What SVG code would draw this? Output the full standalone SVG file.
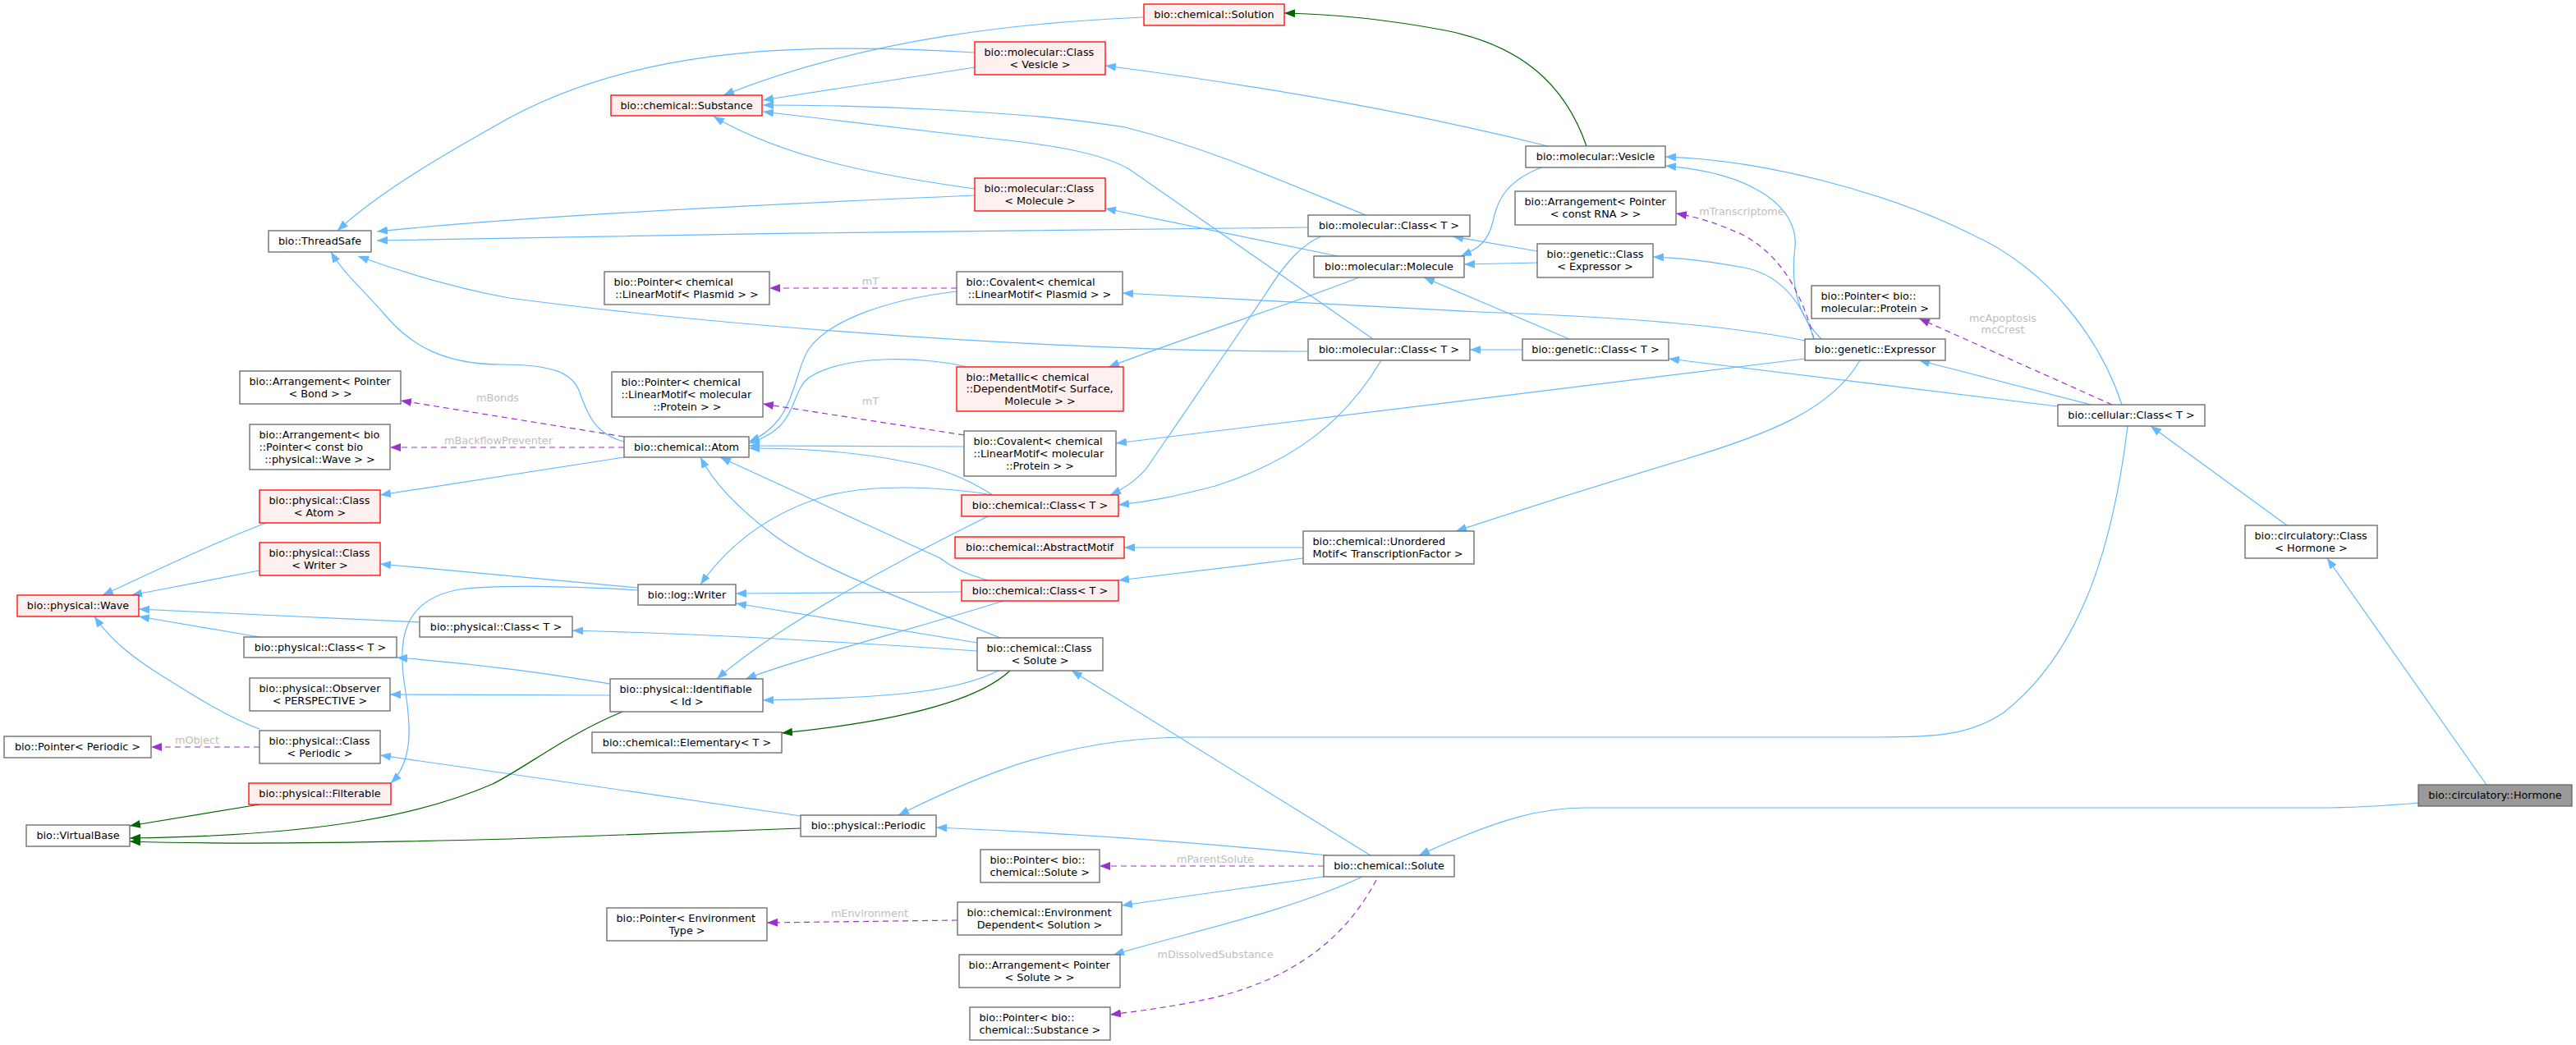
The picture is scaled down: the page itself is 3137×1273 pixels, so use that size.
<svg xmlns="http://www.w3.org/2000/svg" width="3137" height="1273" viewBox="0 0 3137 1273">
<style>
text{font-family:"DejaVu Sans","Liberation Sans",sans-serif;font-size:12.8px;fill:#000}
.n rect{fill:#fff;stroke:#666;stroke-width:1.3}
.r rect{fill:#fff0f0;stroke:#ff0000;stroke-width:1.3}
.h rect{fill:#999;stroke:#666;stroke-width:1.3}
.c{text-anchor:middle}
.eb{fill:none;stroke:#63b8ff;stroke-width:1.2;marker-end:url(#mb)}
.eg{fill:none;stroke:#006400;stroke-width:1.2;marker-end:url(#mg)}
.ep{fill:none;stroke:#9a32cd;stroke-width:1.2;stroke-dasharray:7,5;marker-end:url(#mp)}
.lbl{fill:#bebebe;text-anchor:middle}
</style>
<defs>
<marker id="mb" viewBox="0 0 13 10" refX="13" refY="5" markerWidth="13" markerHeight="10" markerUnits="userSpaceOnUse" orient="auto"><path d="M0,0 L13,5 L0,10 z" fill="#63b8ff"/></marker>
<marker id="mg" viewBox="0 0 13 10" refX="13" refY="5" markerWidth="13" markerHeight="10" markerUnits="userSpaceOnUse" orient="auto"><path d="M0,0 L13,5 L0,10 z" fill="#006400"/></marker>
<marker id="mp" viewBox="0 0 13 10" refX="13" refY="5" markerWidth="13" markerHeight="10" markerUnits="userSpaceOnUse" orient="auto"><path d="M0,0 L13,5 L0,10 z" fill="#9a32cd"/></marker>
</defs>
<rect width="3137" height="1273" fill="#fff"/>
<g id="edges">
<path class="eb" d="M1187,64 C960,50 760,60 600,155 C520,200 455,240 411,281"/>
<path class="eb" d="M1187,238 C950,248 650,262 459,282"/>
<path class="eb" d="M1593,277 C1300,280 800,285 459,293"/>
<path class="eb" d="M1593,428 C1300,428 900,400 620,363 C540,348 480,328 436,312"/>
<path class="eb" d="M760,538 C722,528 714,500 706,478 C698,455 675,444 610,444 C540,444 500,420 470,385 C440,350 420,335 403,307"/>
<path class="eb" d="M1393,21 C1250,27 1060,45 881,116"/>
<path class="eb" d="M1187,82 L929,122"/>
<path class="eb" d="M1663,262 C1560,220 1470,180 1370,155 C1250,135 1050,128 929,128"/>
<path class="eb" d="M1672,413 L1375,206 C1340,186 1280,176 1200,168 L929,136"/>
<path class="eb" d="M1187,230 C1080,215 960,195 869,142"/>
<path class="ep" d="M1165,351 L937,351"/>
<text class="lbl" x="1060" y="347">mT</text>
<path class="eb" d="M1165,355 C1080,365 1010,390 985,425 C965,455 970,515 912,538"/>
<path class="eb" d="M1177,447 C1130,435 1030,430 985,460 C960,480 975,520 912,540"/>
<path class="eb" d="M1174,544 C1050,543 970,543 912,543"/>
<path class="eb" d="M1209,603 C1180,585 1150,570 1100,562 C1040,550 980,546 912,546"/>
<path class="eb" d="M1203,707 C1180,700 1165,695 1145,680 L877,557"/>
<path class="eb" d="M1218,777 C1100,730 990,690 940,650 C900,620 870,590 853,557"/>
<path class="eb" d="M1209,603 C1150,593 1060,588 1000,606 C940,625 890,660 853,712"/>
<path class="eb" d="M1171,721 L896,723"/>
<path class="eb" d="M1190,783 L896,735"/>
<path class="eb" d="M777,716 C700,708 600,700 463,687"/>
<path class="eb" d="M777,719 C700,714 600,712 560,718 C490,730 485,780 492,830 C500,880 505,925 476,954"/>
<path class="eb" d="M1190,793 C1000,780 850,772 697,768"/>
<path class="eb" d="M511,758 L169,742"/>
<path class="eb" d="M316,776 L169,751"/>
<path class="eb" d="M324,637 C250,665 180,700 125,725"/>
<path class="eb" d="M316,695 L160,725"/>
<path class="eb" d="M316,888 C280,875 240,850 200,825 C160,800 135,780 115,751"/>
<path class="eb" d="M760,557 L463,603"/>
<path class="ep" d="M760,532 L488,488"/>
<text class="lbl" x="606" y="489">mBonds</text>
<path class="ep" d="M760,545 L475,545"/>
<text class="lbl" x="607" y="541">mBackflowPreventer</text>
<path class="ep" d="M1174,530 L929,492"/>
<text class="lbl" x="1060" y="493">mT</text>
<path class="eb" d="M1655,338 C1560,375 1460,405 1350,447"/>
<path class="eb" d="M1609,288 C1585,298 1565,320 1540,360 L1400,565 C1390,580 1375,592 1352,603"/>
<path class="eb" d="M1682,439 C1640,510 1580,560 1480,592 C1430,605 1400,611 1362,615"/>
<path class="eb" d="M1911,413 L1734,338"/>
<path class="eb" d="M1854,426 L1790,426"/>
<path class="eb" d="M1872,320 L1783,322"/>
<path class="eb" d="M1872,306 L1769,288"/>
<path class="eb" d="M2198,415 C2100,395 1950,385 1800,380 L1367,357"/>
<path class="eb" d="M2218,413 C2190,385 2180,350 2186,300 C2190,250 2130,210 2028,202"/>
<path class="ep" d="M2209,413 C2195,360 2170,310 2120,285 C2090,272 2070,265 2041,260"/>
<text class="lbl" x="2121" y="262">mTranscriptome</text>
<path class="eb" d="M2209,413 C2195,370 2170,335 2124,326 C2080,318 2050,314 2013,313"/>
<path class="eb" d="M1877,204 C1830,222 1822,250 1818,270 C1812,295 1800,303 1779,312"/>
<path class="eb" d="M1885,178 C1700,132 1500,100 1346,80"/>
<path class="eg" d="M1932,178 C1905,100 1850,55 1760,37 C1680,22 1620,17 1564,16"/>
<path class="eb" d="M1629,312 L1346,254"/>
<path class="eb" d="M2198,437 L1359,540"/>
<path class="eb" d="M2265,439 C2230,500 2150,530 2050,560 C1950,590 1870,615 1773,647"/>
<path class="eb" d="M1587,667 L1369,667"/>
<path class="eb" d="M1587,680 L1362,707"/>
<path class="eb" d="M2591,519 C2575,650 2540,790 2440,868 C2400,895 2360,898 2286,898 L1440,898 C1300,900 1200,940 1094,993"/>
<path class="eb" d="M2945,978 C2900,982 2860,984 2823,984 L1930,984 C1880,984 1830,995 1728,1042"/>
<path class="eb" d="M3028,956 L2834,680"/>
<path class="eb" d="M2785,640 L2619,519"/>
<path class="eb" d="M2546,493 L2337,439"/>
<path class="eb" d="M2506,495 L2032,437"/>
<path class="ep" d="M2572,493 L2337,388"/>
<text class="lbl" x="2439" y="392">mcApoptosis</text>
<text class="lbl" x="2439" y="406">mcCrest</text>
<path class="eb" d="M2584,493 C2560,420 2500,330 2400,285 C2300,235 2150,195 2028,191"/>
<path class="eb" d="M1669,1042 L1305,817"/>
<path class="ep" d="M1612,1055 L1339,1055"/>
<text class="lbl" x="1480" y="1051">mParentSolute</text>
<path class="eb" d="M1612,1068 L1366,1103"/>
<path class="eb" d="M1659,1068 C1570,1110 1450,1135 1356,1163"/>
<path class="ep" d="M1676,1072 C1640,1140 1580,1190 1480,1215 C1430,1226 1400,1230 1352,1236"/>
<text class="lbl" x="1480" y="1167">mDissolvedSubstance</text>
<path class="ep" d="M1166,1121 L934,1124"/>
<text class="lbl" x="1059" y="1117">mEnvironment</text>
<path class="eb" d="M1617,1042 C1450,1025 1300,1015 1140,1008"/>
<path class="eb" d="M975,994 L463,920"/>
<path class="ep" d="M316,910 L184,910"/>
<text class="lbl" x="240" y="906">mObject</text>
<path class="eg" d="M975,1009 L620,1022 C400,1028 250,1028 158,1025"/>
<path class="eg" d="M758,867 C690,895 640,935 600,955 C520,990 400,1018 158,1021"/>
<path class="eg" d="M316,980 L158,1006"/>
<path class="eg" d="M1230,817 C1200,845 1130,875 952,893"/>
<path class="eb" d="M1216,817 C1190,830 1150,840 1100,845 C1050,850 980,852 929,853"/>
<path class="eb" d="M1203,629 C1100,680 950,760 873,827"/>
<path class="eb" d="M1222,732 C1100,770 980,800 908,827"/>
<path class="eb" d="M743,833 C680,823 600,810 483,801"/>
<path class="eb" d="M743,847 L475,846"/>
</g>
<g id="n_ThreadSafe" class="n"><rect x="327" y="281" width="125" height="26"/><text class="c" x="389.5" y="298.3">bio::ThreadSafe</text></g>
<g id="n_Substance" class="r"><rect x="744" y="116" width="184" height="25"/><text class="c" x="836" y="132.8">bio::chemical::Substance</text></g>
<g id="n_Solution" class="r"><rect x="1393" y="5" width="171" height="26"/><text class="c" x="1478.5" y="22.3">bio::chemical::Solution</text></g>
<g id="n_molClassVesicle" class="r"><rect x="1187" y="51" width="159" height="40"/><text x="1198.5" y="67.9">bio::molecular::Class</text><text class="c" x="1266.5" y="82.6">&lt; Vesicle &gt;</text></g>
<g id="n_molClassMolecule" class="r"><rect x="1187" y="217" width="159" height="40"/><text x="1198.5" y="233.9">bio::molecular::Class</text><text class="c" x="1266.5" y="248.6">&lt; Molecule &gt;</text></g>
<g id="n_molClassT1" class="n"><rect x="1593" y="262" width="197" height="26"/><text class="c" x="1691.5" y="279.3">bio::molecular::Class&lt; T &gt;</text></g>
<g id="n_Molecule" class="n"><rect x="1600" y="312" width="183" height="26"/><text class="c" x="1691.5" y="329.3">bio::molecular::Molecule</text></g>
<g id="n_molClassT2" class="n"><rect x="1593" y="413" width="197" height="26"/><text class="c" x="1691.5" y="430.3">bio::molecular::Class&lt; T &gt;</text></g>
<g id="n_PtrPlasmid" class="n"><rect x="736" y="331" width="201" height="40"/><text x="747.5" y="347.9">bio::Pointer&lt; chemical</text><text class="c" x="836.5" y="362.6">::LinearMotif&lt; Plasmid &gt; &gt;</text></g>
<g id="n_CovalentPlasmid" class="n"><rect x="1165" y="331" width="202" height="40"/><text x="1176.5" y="347.9">bio::Covalent&lt; chemical</text><text class="c" x="1266" y="362.6">::LinearMotif&lt; Plasmid &gt; &gt;</text></g>
<g id="n_Vesicle" class="n"><rect x="1858" y="178" width="170" height="26"/><text class="c" x="1943" y="195.3">bio::molecular::Vesicle</text></g>
<g id="n_ArrRNA" class="n"><rect x="1845" y="233" width="196" height="41"/><text x="1856.5" y="250.4">bio::Arrangement&lt; Pointer</text><text class="c" x="1943" y="265.1">&lt; const RNA &gt; &gt;</text></g>
<g id="n_genClassExpressor" class="n"><rect x="1872" y="297" width="141" height="41"/><text x="1883.5" y="314.4">bio::genetic::Class</text><text class="c" x="1942.5" y="329.1">&lt; Expressor &gt;</text></g>
<g id="n_PtrProtein2" class="n"><rect x="2206" y="348" width="156" height="40"/><text x="2217.5" y="364.9">bio::Pointer&lt; bio::</text><text x="2217.5" y="379.6">molecular::Protein &gt;</text></g>
<g id="n_genClassT" class="n"><rect x="1854" y="413" width="178" height="26"/><text class="c" x="1943" y="430.3">bio::genetic::Class&lt; T &gt;</text></g>
<g id="n_Expressor" class="n"><rect x="2198" y="413" width="171" height="26"/><text class="c" x="2283.5" y="430.3">bio::genetic::Expressor</text></g>
<g id="n_cellularClass" class="n"><rect x="2506" y="493" width="179" height="26"/><text class="c" x="2595.5" y="510.3">bio::cellular::Class&lt; T &gt;</text></g>
<g id="n_circClass" class="n"><rect x="2734" y="640" width="161" height="40"/><text x="2745.5" y="656.9">bio::circulatory::Class</text><text class="c" x="2814.5" y="671.6">&lt; Hormone &gt;</text></g>
<g id="n_Hormone" class="h"><rect x="2945" y="956" width="187" height="26"/><text class="c" x="3038.5" y="973.3">bio::circulatory::Hormone</text></g>
<g id="n_ArrBond" class="n"><rect x="292" y="452" width="196" height="40"/><text x="303.5" y="468.9">bio::Arrangement&lt; Pointer</text><text class="c" x="390" y="483.6">&lt; Bond &gt; &gt;</text></g>
<g id="n_ArrWave" class="n"><rect x="304" y="517" width="171" height="55"/><text x="315.5" y="534.1">bio::Arrangement&lt; bio</text><text x="315.5" y="548.8">::Pointer&lt; const bio</text><text class="c" x="389.5" y="563.5">::physical::Wave &gt; &gt;</text></g>
<g id="n_physClassAtom" class="r"><rect x="316" y="597" width="147" height="40"/><text x="327.5" y="613.9">bio::physical::Class</text><text class="c" x="389.5" y="628.6">&lt; Atom &gt;</text></g>
<g id="n_physClassWriter" class="r"><rect x="316" y="661" width="147" height="40"/><text x="327.5" y="677.9">bio::physical::Class</text><text class="c" x="389.5" y="692.6">&lt; Writer &gt;</text></g>
<g id="n_Wave" class="r"><rect x="21" y="725" width="148" height="26"/><text class="c" x="95" y="742.3">bio::physical::Wave</text></g>
<g id="n_physClassTR" class="n"><rect x="511" y="751" width="186" height="25"/><text class="c" x="604" y="767.8">bio::physical::Class&lt; T &gt;</text></g>
<g id="n_physClassTL" class="n"><rect x="297" y="776" width="186" height="25"/><text class="c" x="390" y="792.8">bio::physical::Class&lt; T &gt;</text></g>
<g id="n_Observer" class="n"><rect x="304" y="826" width="171" height="40"/><text x="315.5" y="842.9">bio::physical::Observer</text><text class="c" x="389.5" y="857.6">&lt; PERSPECTIVE &gt;</text></g>
<g id="n_PtrPeriodic" class="n"><rect x="5" y="897" width="179" height="26"/><text class="c" x="94.5" y="914.3">bio::Pointer&lt; Periodic &gt;</text></g>
<g id="n_physClassPeriodic" class="n"><rect x="316" y="890" width="147" height="40"/><text x="327.5" y="906.9">bio::physical::Class</text><text class="c" x="389.5" y="921.6">&lt; Periodic &gt;</text></g>
<g id="n_Filterable" class="r"><rect x="303" y="954" width="173" height="26"/><text class="c" x="389.5" y="971.3">bio::physical::Filterable</text></g>
<g id="n_VirtualBase" class="n"><rect x="32" y="1005" width="126" height="26"/><text class="c" x="95" y="1022.3">bio::VirtualBase</text></g>
<g id="n_PtrProtein" class="n"><rect x="745" y="453" width="184" height="55"/><text x="756.5" y="470.1">bio::Pointer&lt; chemical</text><text x="756.5" y="484.8">::LinearMotif&lt; molecular</text><text class="c" x="837" y="499.5">::Protein &gt; &gt;</text></g>
<g id="n_Atom" class="n"><rect x="760" y="532" width="152" height="25"/><text class="c" x="836" y="548.8">bio::chemical::Atom</text></g>
<g id="n_Writer" class="n"><rect x="777" y="712" width="119" height="25"/><text class="c" x="836.5" y="728.8">bio::log::Writer</text></g>
<g id="n_Identifiable" class="n"><rect x="743" y="827" width="186" height="40"/><text x="754.5" y="843.9">bio::physical::Identifiable</text><text class="c" x="836" y="858.6">&lt; Id &gt;</text></g>
<g id="n_Metallic" class="r"><rect x="1165" y="447" width="203" height="54"/><text x="1176.5" y="463.6">bio::Metallic&lt; chemical</text><text x="1176.5" y="478.3">::DependentMotif&lt; Surface,</text><text class="c" x="1266.5" y="493">Molecule &gt; &gt;</text></g>
<g id="n_CovalentProtein" class="n"><rect x="1174" y="525" width="185" height="55"/><text x="1185.5" y="542.1">bio::Covalent&lt; chemical</text><text x="1185.5" y="556.8">::LinearMotif&lt; molecular</text><text class="c" x="1266.5" y="571.5">::Protein &gt; &gt;</text></g>
<g id="n_chemClassT1" class="r"><rect x="1171" y="603" width="191" height="26"/><text class="c" x="1266.5" y="620.3">bio::chemical::Class&lt; T &gt;</text></g>
<g id="n_AbstractMotif" class="r"><rect x="1163" y="654" width="206" height="26"/><text class="c" x="1266" y="671.3">bio::chemical::AbstractMotif</text></g>
<g id="n_chemClassT2" class="r"><rect x="1171" y="707" width="191" height="25"/><text class="c" x="1266.5" y="723.8">bio::chemical::Class&lt; T &gt;</text></g>
<g id="n_chemClassSolute" class="n"><rect x="1190" y="777" width="153" height="40"/><text x="1201.5" y="793.9">bio::chemical::Class</text><text class="c" x="1266.5" y="808.6">&lt; Solute &gt;</text></g>
<g id="n_Unordered" class="n"><rect x="1587" y="647" width="208" height="40"/><text x="1598.5" y="663.9">bio::chemical::Unordered</text><text x="1598.5" y="678.6">Motif&lt; TranscriptionFactor &gt;</text></g>
<g id="n_Elementary" class="n"><rect x="721" y="892" width="231" height="25"/><text class="c" x="836.5" y="908.8">bio::chemical::Elementary&lt; T &gt;</text></g>
<g id="n_Periodic" class="n"><rect x="975" y="993" width="165" height="26"/><text class="c" x="1057.5" y="1010.3">bio::physical::Periodic</text></g>
<g id="n_PtrEnvType" class="n"><rect x="739" y="1106" width="195" height="40"/><text x="750.5" y="1122.9">bio::Pointer&lt; Environment</text><text class="c" x="836.5" y="1137.6">Type &gt;</text></g>
<g id="n_PtrSolute" class="n"><rect x="1194" y="1035" width="145" height="40"/><text x="1205.5" y="1051.9">bio::Pointer&lt; bio::</text><text x="1205.5" y="1066.6">chemical::Solute &gt;</text></g>
<g id="n_EnvDependent" class="n"><rect x="1166" y="1099" width="200" height="40"/><text x="1177.5" y="1115.9">bio::chemical::Environment</text><text class="c" x="1266" y="1130.6">Dependent&lt; Solution &gt;</text></g>
<g id="n_ArrSolute" class="n"><rect x="1168" y="1163" width="196" height="40"/><text x="1179.5" y="1179.9">bio::Arrangement&lt; Pointer</text><text class="c" x="1266" y="1194.6">&lt; Solute &gt; &gt;</text></g>
<g id="n_PtrSubstance" class="n"><rect x="1181" y="1227" width="171" height="40"/><text x="1192.5" y="1243.9">bio::Pointer&lt; bio::</text><text x="1192.5" y="1258.6">chemical::Substance &gt;</text></g>
<g id="n_Solute" class="n"><rect x="1612" y="1042" width="159" height="26"/><text class="c" x="1691.5" y="1059.3">bio::chemical::Solute</text></g>
</svg>
